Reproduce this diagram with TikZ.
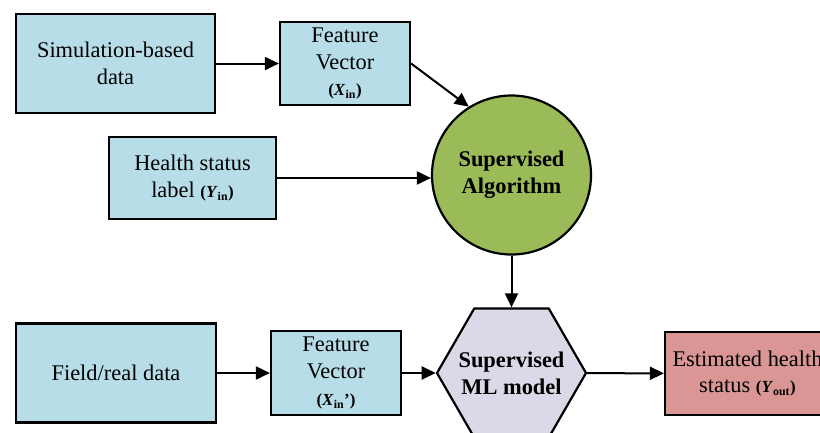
\documentclass[tikz,border=0pt]{standalone}
\usepackage{fontspec}
\setmainfont{Liberation Serif}
\usetikzlibrary{arrows.meta,shapes.geometric}
\definecolor{boxblue}{HTML}{B7DDE8}
\definecolor{algogreen}{HTML}{9BBB59}
\definecolor{modellilac}{HTML}{DDD8E7}
\definecolor{outred}{HTML}{D99694}
\newcommand{\invar}[2]{{\fontsize{17}{18}\selectfont\textbf{(\textit{#1}\textsubscript{#2})}}}
\newcommand{\invarp}[2]{{\fontsize{17}{18}\selectfont\textbf{(\textit{#1}\textsubscript{#2}')}}}
\begin{document}
\begin{tikzpicture}[x=1bp, y=-1bp,
    font=\fontsize{22.5}{27}\selectfont,
    box/.style={draw, line width=2.2bp, fill=boxblue, align=center, inner sep=0pt},
    arr/.style={line width=2bp, -{Triangle[length=14bp,width=13bp]}}
  ]
  \clip (0, 0) rectangle (820, 432);
  \node[box, minimum width=199bp, minimum height=99bp] (sim) at (115.5, 63.5) {Simulation-based\\data};
  \node[box, minimum width=130bp, minimum height=83bp] (fvsim) at (345, 63.5) {Feature\\Vector\\\invar{X}{in}};
  \node[box, minimum width=167bp, minimum height=82bp] (health) at (192.5, 178) {Health status\\label \invar{Y}{in}};
  \node[draw, circle, line width=2.2bp, fill=algogreen, minimum size=159bp, inner sep=0pt, align=center, font=\fontsize{22.5}{27}\selectfont\bfseries] (algo) at (511.5, 175) {Supervised\\Algorithm};

  \node[box, minimum width=200bp, minimum height=99bp] (field) at (116, 373) {Field/real data};
  \node[box, minimum width=130bp, minimum height=84bp] (fvfield) at (336, 373) {Feature\\Vector\\\invarp{X}{in}};
  \node[draw, regular polygon, regular polygon sides=6, line width=2.2bp, fill=modellilac, minimum size=149bp, inner sep=0pt,
    label={[align=center, font=\fontsize{22.5}{27}\selectfont\bfseries]center:Supervised\\ML model}] (model) at (511.5, 373) {};
  \node[draw, line width=2.2bp, fill=outred, minimum width=165bp, minimum height=83bp, inner sep=0pt, align=center] (est) at (747.5, 373.5) {Estimated health\\status \invar{Y}{out}};

  \draw[arr] (sim) -- (fvsim);
  \draw[arr] (fvsim.east) -- (algo.122);
  \draw[arr] (health) -- (health -| algo.west);
  \draw[arr] (algo.south) -- (model.north);
  \draw[arr] (field) -- (fvfield);
  \draw[arr] (fvfield) -- (model);
  \draw[arr] (model) -- (est);
\end{tikzpicture}
\end{document}
